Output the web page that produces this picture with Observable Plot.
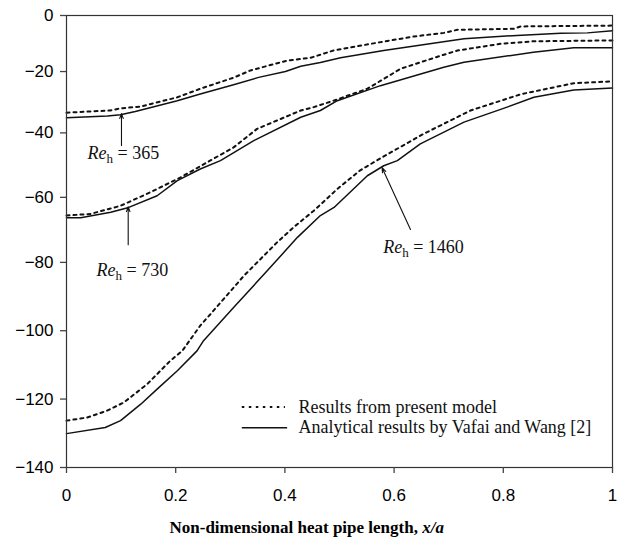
<!DOCTYPE html>
<html><head><meta charset="utf-8">
<script src="https://cdn.jsdelivr.net/npm/d3@7"></script>
<script src="https://cdn.jsdelivr.net/npm/@observablehq/plot@0.6"></script>
<style>body{margin:0;background:#fff}</style>
</head><body><div id="chart"></div>
<script>
// Tick values
const xTicks = [0, 0.2, 0.4, 0.6, 0.8, 1];
const yTicks = [-140, -120, -100, -80, -60, -40, -20, 0];

// Results from present model (dotted)
const re365Model = [[0,-33.4],[0.08,-32.7],[0.099,-32.0],[0.136,-31.4],[0.203,-28.4],[0.245,-25.6],[0.306,-22.0],[0.337,-19.6],[0.404,-16.1],[0.429,-15.5],[0.447,-15.1],[0.489,-12.5],[0.575,-9.5],[0.636,-7.5],[0.691,-6.2],[0.716,-5.1],[0.819,-4.75],[0.832,-3.9],[1.0,-3.6]];
const re730Model = [[0,-65.6],[0.044,-65.1],[0.099,-62.6],[0.154,-58.4],[0.209,-53.8],[0.258,-49.1],[0.306,-44.5],[0.349,-38.7],[0.429,-32.7],[0.453,-31.6],[0.489,-29.5],[0.551,-25.6],[0.612,-19.0],[0.691,-14.0],[0.716,-12.5],[0.795,-10.1],[0.855,-9.2],[1.0,-8.9]];
const re1460Model = [[0,-126.3],[0.038,-125.4],[0.074,-123.4],[0.105,-121.0],[0.148,-115.6],[0.19,-108.8],[0.212,-105.9],[0.245,-98.5],[0.264,-95.1],[0.325,-83.9],[0.386,-73.8],[0.416,-69.2],[0.453,-64.1],[0.496,-57.4],[0.538,-51.6],[0.581,-47.3],[0.654,-40.3],[0.74,-32.7],[0.832,-27.4],[0.929,-23.8],[1.0,-23.2]];

// Analytical results by Vafai and Wang [2] (solid)
const re365Analytical = [[0,-35.1],[0.075,-34.5],[0.099,-34.1],[0.126,-33.0],[0.203,-29.5],[0.245,-27.3],[0.306,-24.3],[0.352,-21.9],[0.401,-20.0],[0.429,-18.1],[0.465,-16.8],[0.502,-15.1],[0.581,-12.5],[0.728,-8.3],[0.825,-7.1],[0.905,-6.3],[0.954,-6.2],[1.0,-5.4]];
const re730Analytical = [[0,-66.3],[0.026,-66.3],[0.081,-64.6],[0.114,-63.1],[0.166,-59.5],[0.203,-54.8],[0.245,-51.2],[0.282,-48.6],[0.343,-42.4],[0.429,-34.9],[0.465,-32.7],[0.496,-29.5],[0.575,-24.6],[0.691,-18.5],[0.728,-16.7],[0.855,-13.1],[0.929,-11.5],[1.0,-11.5]];
const re1460Analytical = [[0,-130.1],[0.071,-128.3],[0.099,-126.3],[0.136,-121.5],[0.166,-117.1],[0.203,-111.7],[0.239,-105.9],[0.251,-102.9],[0.306,-93.2],[0.368,-82.4],[0.423,-72.3],[0.465,-65.6],[0.49,-63.1],[0.551,-53.3],[0.581,-50.2],[0.606,-48.6],[0.648,-43.4],[0.728,-36.5],[0.807,-31.6],[0.856,-28.4],[0.929,-26.0],[1.0,-25.4]];

// Annotations: label position and arrow (data units)
const reLabels = ["365", "730", "1460"];
const labelX = [0.0385, 0.055, 0.58];
const labelY = [-48.0, -83.9, -77.0];
const arrowX1 = [0.1007, 0.113, 0.63];
const arrowY1 = [-43.9, -74.6, -69.9];
const arrowX2 = [0.1007, 0.113, 0.578];
const arrowY2 = [-33.7, -62.9, -50.8];

// Legend
const legendLabels = ["Results from present model", "Analytical results by Vafai and Wang [2]"];

// The printed figure's vertical axis is not evenly spaced: relative tick positions (0 = bottom, 1 = top)
const yTickFractions = [0, 0.1514, 0.3026, 0.4538, 0.5977, 0.7403, 0.8760, 1];
const yWarp = d3.scaleLinear().domain(yTicks).range(yTickFractions.map(f => -140 + f * 140));

const annotations = reLabels.map((re, i) => ({re: "Re_h = " + re, x: labelX[i], y: labelY[i], x1: arrowX1[i], y1: arrowY1[i], x2: arrowX2[i], y2: arrowY2[i]}));
const toRows = (arr) => arr.map(([x, y]) => ({x, y}));
const modelSeries = [re365Model, re730Model, re1460Model].map(toRows);
const analyticalSeries = [re365Analytical, re730Analytical, re1460Analytical].map(toRows);

const sans = "Liberation Sans, Arial, sans-serif";
const serif = "Liberation Serif, Times New Roman, serif";
const minusFmt = d => d < 0 ? "\u2212" + Math.abs(d) : String(d);

const marks = [];
for (const s of analyticalSeries) marks.push(Plot.line(s, {x: "x", y: "y", stroke: "#111", strokeWidth: 1.5}));
for (const s of modelSeries) marks.push(Plot.line(s, {x: "x", y: "y", stroke: "#111", strokeWidth: 2, strokeDasharray: "3,4"}));

// Legend samples (in data units inside the frame)
marks.push(Plot.ruleY([{y: -122.3}], {y: "y", x1: 0.322, x2: 0.401, stroke: "#111", strokeWidth: 2, strokeDasharray: "2.5,4.5"}));
marks.push(Plot.ruleY([{y: -128.4}], {y: "y", x1: 0.322, x2: 0.405, stroke: "#111", strokeWidth: 1.5}));
marks.push(Plot.text([{t: legendLabels[0], y: -124.2}, {t: legendLabels[1], y: -130.0}], {x: () => 0.425, y: "y", text: "t", textAnchor: "start", lineAnchor: "bottom", fontSize: 18, fontFamily: serif, fill: "#111"}));

// Arrows and labels
marks.push(Plot.arrow(annotations, {x1: "x1", y1: "y1", x2: "x2", y2: "y2", stroke: "#111", strokeWidth: 1.1, headLength: 7, headAngle: 40}));
marks.push(Plot.text(annotations, {x: "x", y: "y", text: "re", textAnchor: "start", lineAnchor: "bottom", fontSize: 18, fontFamily: serif, fill: "#111"}));

// Axes and frame (axis ticks placed at the warped positions, labelled with the original values)
marks.push(Plot.frame({stroke: "#333", strokeWidth: 1.2}));
marks.push(Plot.axisY({ticks: yTicks.map(yWarp), tickSize: 6, tickPadding: 7, fontSize: 17, fontFamily: sans, tickFormat: d => minusFmt(Math.round(yWarp.invert(d))), stroke: "#444", strokeWidth: 1.3, label: null}));
marks.push(Plot.axisX({ticks: xTicks, tickSize: 6, tickPadding: 15, fontSize: 17, fontFamily: sans, tickFormat: d => String(d), stroke: "#444", strokeWidth: 1.3, label: null}));
marks.push(Plot.text(["XTITLE|Non-dimensional heat pipe length,"], {frameAnchor: "bottom-left", dx: 103, dy: 65, text: d => d, textAnchor: "start", lineAnchor: "bottom", fontSize: 17, fontWeight: "bold", fontFamily: serif, fill: "#000"}));

const chart = Plot.plot({
  width: 627,
  height: 542,
  marginLeft: 66,
  marginRight: 15,
  marginTop: 15,
  marginBottom: 75,
  style: {background: "#fff", color: "#000"},
  x: {domain: [0, 1], label: null},
  y: {domain: [-140, 0], transform: yWarp, label: null},
  marks
});

const svg = d3.select(chart.tagName.toLowerCase() === "svg" ? chart : chart.querySelector("svg"));
svg.selectAll("text").each(function () {
  const t = d3.select(this);
  const v = this.textContent;
  let m = /^Re_h = (.*)$/.exec(v);
  if (m) {
    t.text(null);
    t.append("tspan").attr("font-style", "italic").text("Re");
    t.append("tspan").attr("font-size", 13).attr("dy", 4).text("h");
    t.append("tspan").attr("dy", -4).text(" = " + m[1]);
    return;
  }
  m = /^XTITLE\|(.*)$/.exec(v);
  if (m) {
    t.text(null);
    t.append("tspan").text(m[1] + " ");
    t.append("tspan").attr("font-style", "italic").text("x/a");
  }
});
document.getElementById("chart").appendChild(chart);
</script>
</body></html>
